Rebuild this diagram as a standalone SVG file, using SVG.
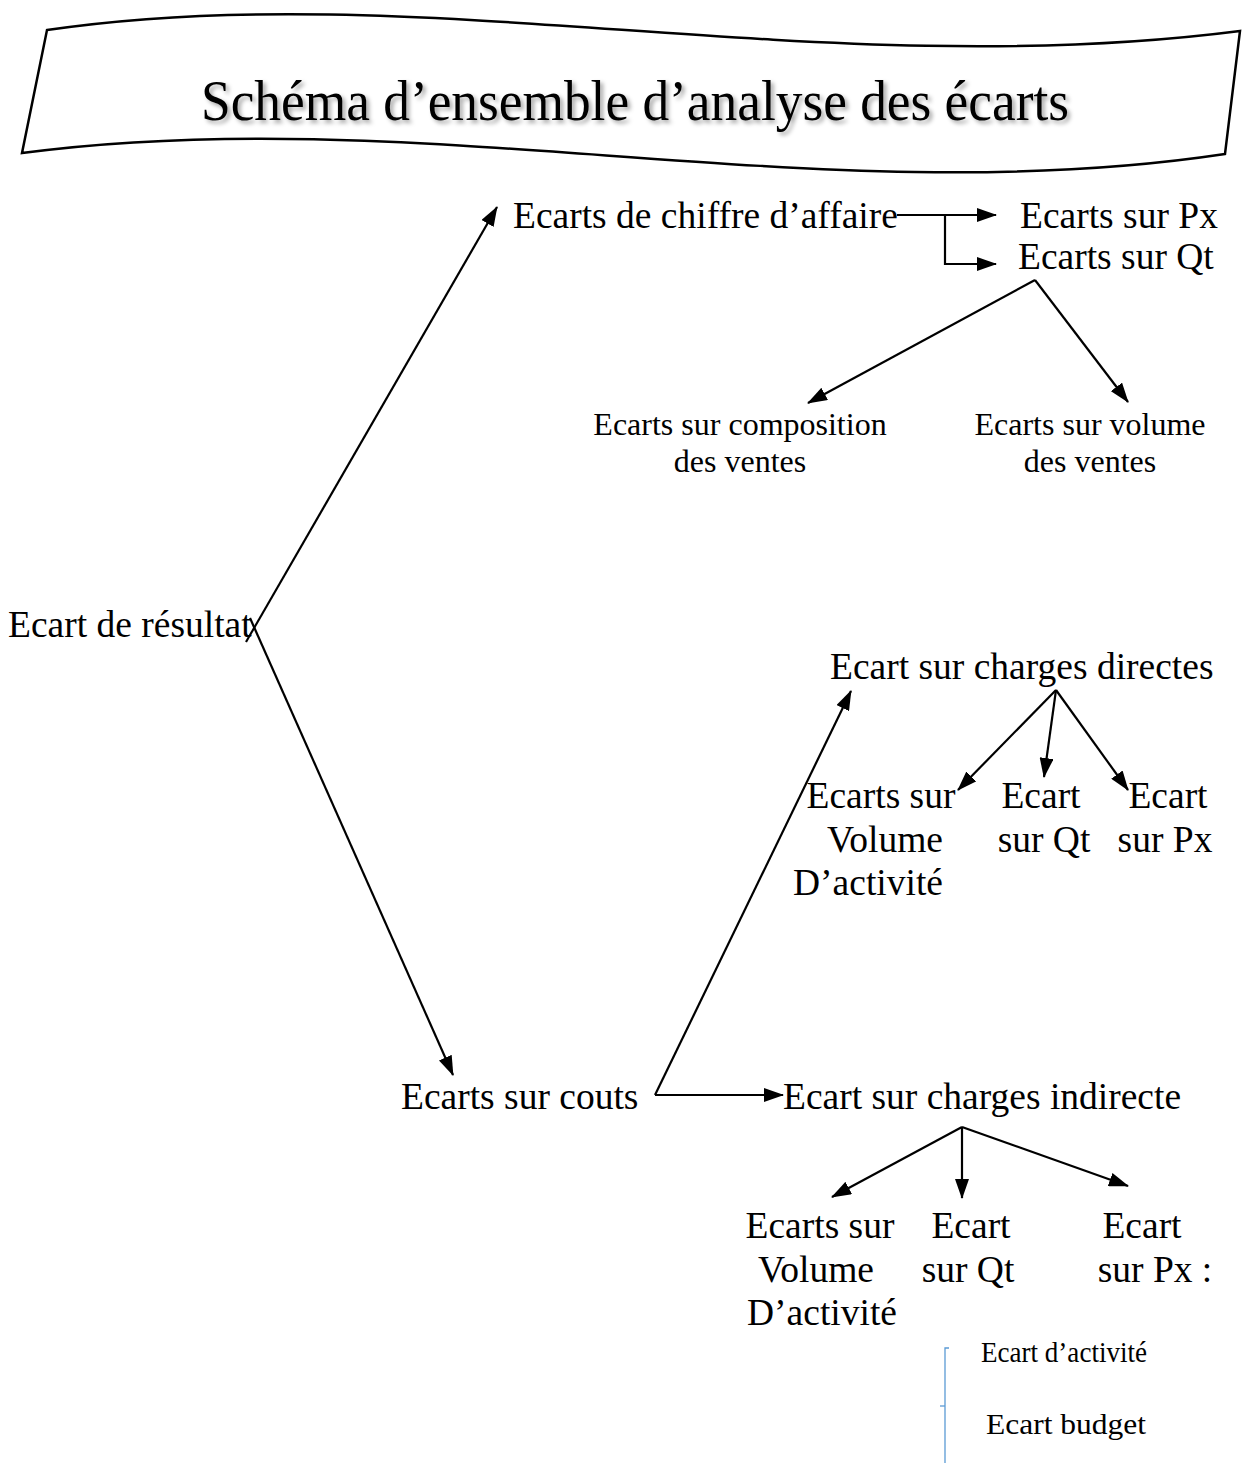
<svg xmlns="http://www.w3.org/2000/svg" width="1243" height="1463" viewBox="0 0 1243 1463">
  <style>
    .t { font-family: "Liberation Serif", "Times New Roman", serif; font-size: 37.5px; fill: #000; }
    .s { font-family: "Liberation Serif", "Times New Roman", serif; font-size: 32px; fill: #000; }
    .x { font-family: "Liberation Serif", "Times New Roman", serif; font-size: 29px; fill: #000; }
    .c { text-anchor: middle; }
    .arr { stroke: #000; stroke-width: 2.2; fill: none; marker-end: url(#ah); }
  </style>
  <defs>
    <marker id="ah" viewBox="0 0 20 14" refX="19" refY="7" markerWidth="20" markerHeight="14" markerUnits="userSpaceOnUse" orient="auto">
      <path d="M0,0 L20,7 L0,14 Z" fill="#000"/>
    </marker>
    <filter id="shadow" x="-5%" y="-30%" width="110%" height="160%">
      <feDropShadow dx="3" dy="3" stdDeviation="2" flood-color="#000" flood-opacity="0.35"/>
    </filter>
  </defs>
  <rect width="1243" height="1463" fill="#fff"/>

  <!-- title banner -->
  <g id="title">
    <path d="M47,30 C420,-25 820,85 1240,31 L1225,154 C820,215 420,100 22,153 Z" fill="#fff" stroke="#000" stroke-width="2.5" stroke-linejoin="miter"/>
    <text x="635" y="120" class="c" filter="url(#shadow)" style="font-family:'Liberation Serif','Times New Roman',serif;font-size:58px" textLength="868" lengthAdjust="spacingAndGlyphs">Schéma d’ensemble d’analyse des écarts</text>
  </g>

  <!-- connectors -->
  <g id="connectors">
    <line class="arr" x1="246" y1="642" x2="497" y2="207"/>
    <line class="arr" x1="250" y1="618" x2="453" y2="1075"/>
    <line class="arr" x1="897" y1="215" x2="996" y2="215"/>
    <polyline class="arr" points="945,215 945,264 996,264"/>
    <line class="arr" x1="1035" y1="280" x2="808" y2="403"/>
    <line class="arr" x1="1035" y1="280" x2="1128" y2="402"/>
    <line class="arr" x1="655" y1="1095" x2="851" y2="691"/>
    <line class="arr" x1="655" y1="1095" x2="783" y2="1095"/>
    <line class="arr" x1="1056" y1="690" x2="958" y2="790"/>
    <line class="arr" x1="1056" y1="690" x2="1044" y2="777"/>
    <line class="arr" x1="1056" y1="690" x2="1128" y2="790"/>
    <line class="arr" x1="962" y1="1127" x2="832" y2="1197"/>
    <line class="arr" x1="962" y1="1127" x2="962" y2="1198"/>
    <line class="arr" x1="962" y1="1127" x2="1128" y2="1186"/>
    <polyline points="949,1348 945,1348 945,1463" stroke="#5b9bd5" stroke-width="1.3" fill="none"/>
    <line x1="940" y1="1406" x2="945" y2="1406" stroke="#5b9bd5" stroke-width="1.3"/>
  </g>

  <!-- nodes -->
  <g id="ecart-resultat"><text class="t" x="8" y="637">Ecart de résultat</text></g>
  <g id="ecart-ca"><text class="t" x="513" y="228">Ecarts de chiffre d’affaire</text></g>
  <g id="ecart-ca-px"><text class="t" x="1020" y="228">Ecarts sur Px</text></g>
  <g id="ecart-ca-qt"><text class="t" x="1018" y="269">Ecarts sur Qt</text></g>
  <g id="ecart-composition">
    <text class="s c" x="740" y="435">Ecarts sur composition</text>
    <text class="s c" x="740" y="472">des ventes</text>
  </g>
  <g id="ecart-volume-ventes">
    <text class="s c" x="1090" y="435">Ecarts sur volume</text>
    <text class="s c" x="1090" y="472">des ventes</text>
  </g>
  <g id="ecart-cd"><text class="t" x="830" y="679">Ecart sur charges directes</text></g>
  <g id="cd-volume">
    <text class="t c" x="881" y="808">Ecarts sur</text>
    <text class="t c" x="885" y="852">Volume</text>
    <text class="t c" x="868" y="895">D’activité</text>
  </g>
  <g id="cd-qt">
    <text class="t c" x="1041" y="808">Ecart</text>
    <text class="t c" x="1044" y="852">sur Qt</text>
  </g>
  <g id="cd-px">
    <text class="t c" x="1168" y="808">Ecart</text>
    <text class="t c" x="1165" y="852">sur Px</text>
  </g>
  <g id="ecart-couts"><text class="t" x="401" y="1109">Ecarts sur couts</text></g>
  <g id="ecart-ci"><text class="t" x="783" y="1109">Ecart sur charges indirecte</text></g>
  <g id="ci-volume">
    <text class="t c" x="820" y="1238">Ecarts sur</text>
    <text class="t c" x="816" y="1282">Volume</text>
    <text class="t c" x="822" y="1325">D’activité</text>
  </g>
  <g id="ci-qt">
    <text class="t c" x="971" y="1238">Ecart</text>
    <text class="t c" x="968" y="1282">sur Qt</text>
  </g>
  <g id="ci-px">
    <text class="t c" x="1142" y="1238">Ecart</text>
    <text class="t c" x="1155" y="1282">sur Px :</text>
  </g>
  <g id="ecart-activite"><text class="x" x="981" y="1362" textLength="166" lengthAdjust="spacingAndGlyphs">Ecart d’activité</text></g>
  <g id="ecart-budget"><text class="x" x="986" y="1434" textLength="160" lengthAdjust="spacingAndGlyphs">Ecart budget</text></g>
</svg>
